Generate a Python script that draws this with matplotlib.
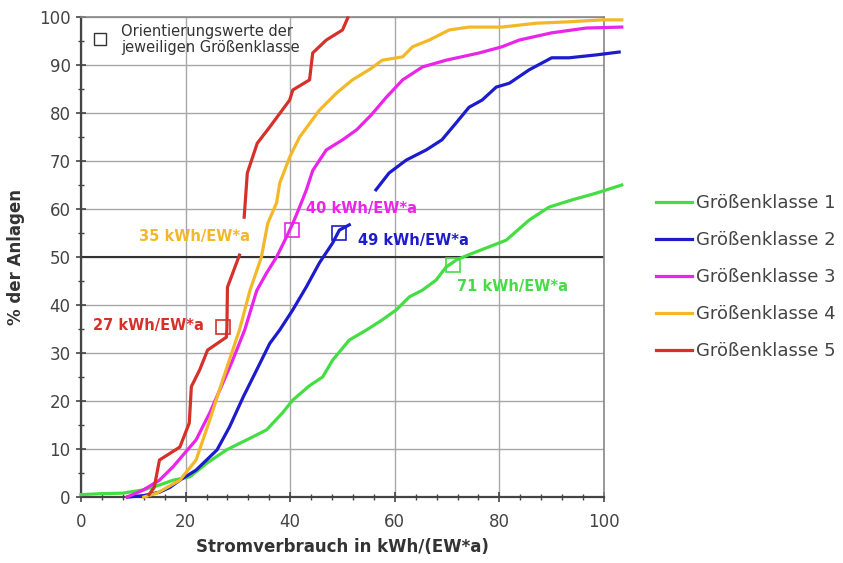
"""Summenkurven Stromverbrauch je Groessenklasse"""

import numpy as np
from matplotlib import pyplot as plt
from matplotlib.ticker import MultipleLocator

nan = np.nan

# Groessenklasse 1 (gruen)
x1 = [0, 4, 8, 12, 15, 17.6, 20.8, 24, 27.8, 30, 32.8, 35.5, 38.5, 40.5, 43.7, 46.2, 48.1,
      51.3, 54.6, 57.6, 60.3, 62.8, 65.3, 67.9, 69.8, 71.8, 74.2, 78, 81.3, 85.7, 89.5,
      93.9, 98.5, 103.4]
y1 = [0.5, 0.7, 0.8, 1.5, 2.5, 3.5, 4.2, 7, 9.8, 11, 12.5, 14, 17.5, 20.2, 23.2, 25, 28.5,
      32.7, 34.8, 36.9, 39, 41.7, 43.1, 45.2, 47.9, 49.4, 50.5, 52.1, 53.5, 57.7, 60.4,
      61.9, 63.3, 65]

# Groessenklasse 2 (blau), Luecke zwischen 51 und 56
x2 = [9, 12, 15, 17, 18.9, 22, 26, 28.4, 31, 33.6, 36.1, 38, 40.5, 43.1, 45.6, 48.1, 49.4,
      51.3, nan, 56.4, 58.9, 62.2, 66, 69, 71.7, 74.2, 76.7, 79.4, 81.9, 85.7, 90, 93.3,
      98.5, 102.9]
y2 = [0, 0.3, 1, 2, 3.5, 5.6, 9.8, 14.6, 20.8, 26.5, 32, 34.8, 39, 43.8, 48.8, 52.9, 55.6,
      56.7, nan, 64, 67.5, 70.2, 72.3, 74.4, 77.9, 81.2, 82.7, 85.4, 86.2, 89, 91.5, 91.5,
      92.1, 92.7]

# Groessenklasse 3 (magenta)
x3 = [8.8, 11.8, 15, 17.6, 22, 24.6, 27.1, 29, 31.3, 33.6, 35.5, 37.4, 39.3, 40.5, 41.8,
      43.1, 44.3, 46.9, 50, 52.7, 55.5, 58.4, 61.5, 65.3, 69.8, 76.1, 80.5, 83.8, 90, 96.6,
      103.4]
y3 = [0, 1.4, 3.5, 6.3, 11.9, 17.5, 23.7, 28.5, 34.8, 43, 46.7, 50, 54.2, 57, 60.4, 64, 68,
      72.3, 74.4, 76.5, 79.6, 83.3, 86.9, 89.6, 91, 92.5, 93.8, 95.2, 96.7, 97.7, 97.9]

# Groessenklasse 4 (gelb/orange)
x4 = [12, 14.5, 18.9, 22, 24.6, 27.1, 29, 30.3, 32.3, 34.5, 35.7, 37.4, 38, 39.9, 41.8,
      45.6, 48.9, 51.9, 55.5, 57.6, 61.5, 63.4, 66.6, 70.4, 74.2, 80.5, 87, 93.3, 99.6, 103.4]
y4 = [0, 0.8, 3.5, 7.7, 16, 24.4, 30.6, 34.8, 43, 50, 57, 61.3, 65.4, 70.8, 75, 80.6, 84.2,
      86.9, 89.3, 91, 91.7, 93.8, 95.2, 97.3, 97.9, 97.9, 98.7, 99, 99.4, 99.4]

# Groessenklasse 5 (rot), Luecke zwischen 50 und 58 %
x5 = [13, 14, 15, 18.9, 20.7, 21.1, 22.7, 24.2, 27.8, 27.9, 28, 30.3, nan, 31.2, 31.8, 33.7,
      36.1, 39.9, 40.5, 43.7, 44.3, 46.9, 50, 51]
y5 = [0.5, 2, 7.7, 10.4, 15.4, 23, 26.5, 30.6, 33.3, 35.4, 43.7, 50.4, nan, 58.3, 67.5, 73.7,
      77.1, 82.7, 84.8, 86.9, 92.5, 95.2, 97.3, 99.8]

labels = ['Größenklasse 1', 'Größenklasse 2', 'Größenklasse 3', 'Größenklasse 4',
          'Größenklasse 5']
colors = ['#44dd44', '#1c1ccc', '#e825e8', '#f2b829', '#d6302a']

# Orientierungswerte: Quadrat (x, y), Text (x, y)
ow_text = ['71 kWh/EW*a', '49 kWh/EW*a', '40 kWh/EW*a', '35 kWh/EW*a', '27 kWh/EW*a']
ow_sq_x = [71.2, 49.4, 40.3, nan, 27.1]
ow_sq_y = [48.3, 55.0, 55.6, nan, 35.4]
ow_tx_x = [71.8, 52.9, 43.1, 11.0, 2.3]
ow_tx_y = [43.8, 53.5, 60.2, 54.2, 35.8]

plt.rcParams['font.family'] = 'DejaVu Sans'

fig = plt.figure(figsize=(8.43, 5.63), dpi=100)
ax = fig.add_axes([81 / 843, 1 - 497 / 563, 523 / 843, 480 / 563])

xs = [x1, x2, x3, x4, x5]
ys = [y1, y2, y3, y4, y5]
for xv, yv, c, lab in zip(xs, ys, colors, labels):
    ax.plot(xv, yv, color=c, lw=2.3, label=lab, clip_on=False, zorder=3)

for i in range(5):
    ax.plot(ow_sq_x[i], ow_sq_y[i], marker='s', ms=10.5, mfc='none', mec=colors[i],
            mew=1.2, zorder=4)
    ax.text(ow_tx_x[i], ow_tx_y[i], ow_text[i], color=colors[i], fontsize=10.5,
            fontweight='bold', ha='left', va='center', zorder=5)

# Legende fuer Quadrate oben links
ax.plot(3.6, 95.5, marker='s', ms=8, mfc='none', mec='#333333', mew=1.0)
ax.text(7.7, 95.3, 'Orientierungswerte der\njeweiligen Größenklasse', fontsize=10.5,
        color='#333333', ha='left', va='center', linespacing=1.15, zorder=2)

ax.axhline(50, color='#333333', lw=1.5, zorder=2)

ax.set_xlim(0, 100)
ax.set_ylim(0, 100)
ax.xaxis.set_major_locator(MultipleLocator(20))
ax.xaxis.set_minor_locator(MultipleLocator(4))
ax.yaxis.set_major_locator(MultipleLocator(10))
ax.yaxis.set_minor_locator(MultipleLocator(5))
ax.grid(which='major', color='#a8a8a8', lw=1.0)
ax.set_axisbelow(True)

ax.tick_params(which='major', direction='inout', length=7, width=1.2, color='#444444',
               labelsize=12, labelcolor='#444444')
ax.tick_params(which='minor', direction='inout', length=4, width=1.0, color='#444444')
ax.tick_params(axis='x', which='major', pad=8)
ax.tick_params(axis='y', which='major', pad=4)

for s in ('left', 'bottom'):
    ax.spines[s].set_color('#444444')
    ax.spines[s].set_linewidth(1.6)
for s in ('top', 'right'):
    ax.spines[s].set_color('#888888')
    ax.spines[s].set_linewidth(1.2)

ax.set_xlabel('Stromverbrauch in kWh/(EW*a)', fontsize=12, fontweight='bold',
              color='#333333', labelpad=5)
ax.set_ylabel('% der Anlagen', fontsize=12, fontweight='bold', color='#333333',
              labelpad=10)

handles, labs = ax.get_legend_handles_labels()
fig.legend(handles[:5], labs[:5], loc='upper left', bbox_to_anchor=(656 / 843, 1 - 194 / 563),
           frameon=False, fontsize=13, handlelength=2.0, handletextpad=0.2,
           labelspacing=1.05, borderpad=0, borderaxespad=0, labelcolor='#444444')

plt.savefig('out.png', dpi=100)
